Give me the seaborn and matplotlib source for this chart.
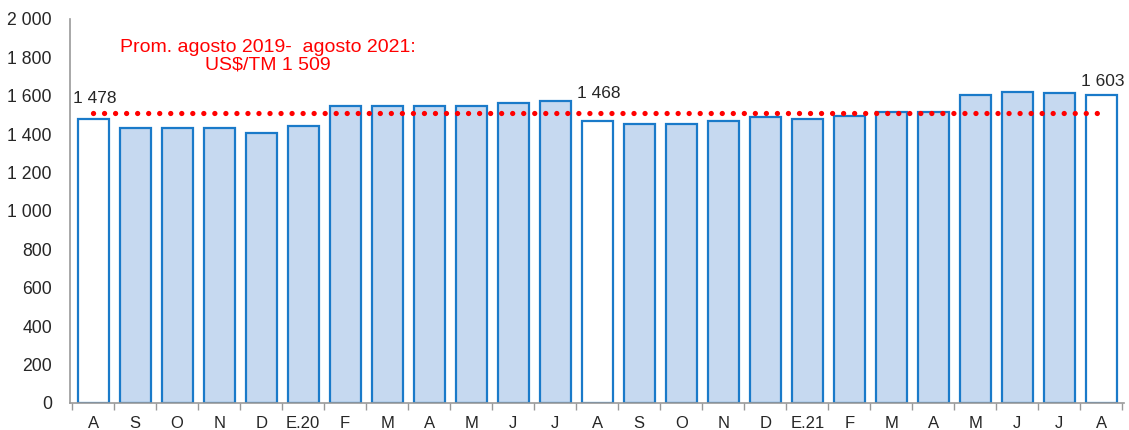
import matplotlib
matplotlib.use("Agg")
import matplotlib.pyplot as plt
import seaborn as sns
import pandas as pd
from matplotlib.ticker import FuncFormatter, FixedLocator

# Precio mensual (US$/TM), agosto 2019 - agosto 2021
meses = ["A", "S", "O", "N", "D", "E.20", "F", "M", "A", "M", "J", "J",
         "A", "S", "O", "N", "D", "E.21", "F", "M", "A", "M", "J", "J", "A"]
precios = [1478, 1430, 1430, 1430, 1404, 1443, 1549, 1549, 1549, 1549, 1562, 1573,
           1468, 1451, 1455, 1470, 1489, 1481, 1493, 1515, 1515, 1604, 1620, 1616, 1603]
destacados = [0, 12, 24]
promedio = 1509

df = pd.DataFrame({"pos": range(len(meses)), "mes": meses, "precio": precios})
df["tipo"] = ["agosto" if i in destacados else "otro" for i in df["pos"]]

sns.set_style("white")
plt.rcParams["font.family"] = ["Liberation Sans", "DejaVu Sans"]

fig = plt.figure(figsize=(11.29, 4.30), dpi=100)
ax = fig.add_axes([0.062, 0.063, 0.934, 0.893])

sns.barplot(data=df, x="pos", y="precio", hue="tipo", dodge=False, saturation=1,
            palette={"agosto": "white", "otro": "#C6D9F0"},
            edgecolor="#1A7AC9", linewidth=1.6, width=0.74, legend=False, ax=ax)

# linea de promedio punteada (del primer al ultimo mes)
ax.hlines(promedio, 0, len(meses) - 1, colors="red", linewidth=3.8,
          linestyles=[(0, (0.01, 2.08))], capstyle="round", zorder=5)

ax.set_ylim(0, 2000)
ax.set_xlim(-0.55, len(meses) - 0.45)
ax.set_yticks(range(0, 2001, 200))
ax.yaxis.set_major_formatter(FuncFormatter(lambda v, p: f"{int(v):,}".replace(",", " ")))

ax.set_xticks(range(len(meses)))
ax.set_xticklabels(meses)
ax.xaxis.set_minor_locator(FixedLocator([i - 0.5 for i in range(len(meses) + 1)]))
ax.tick_params(axis="x", which="major", length=0, pad=9.5, labelsize=12)
ax.tick_params(axis="x", which="minor", bottom=True, length=5, width=1,
               color="#999999", direction="out")
ax.tick_params(axis="y", length=5, width=1, color="#999999", direction="out",
               labelsize=12.7, pad=8)
ax.set_xlabel("")
ax.set_ylabel("")

sns.despine(ax=ax)
for s in ["left", "bottom"]:
    ax.spines[s].set_color("#999999")
    ax.spines[s].set_linewidth(1.2)

# etiquetas de los meses de agosto
desfase = {0: 15, 12: 20, 24: 10}
for i in destacados:
    txt = f"{precios[i]:,}".replace(",", " ")
    ax.annotate(txt, (i, precios[i]), xytext=(1, desfase[i]), textcoords="offset points",
                ha="center", va="center", fontsize=12.5)

ax.text(4.17, 1805, "Prom. agosto 2019-  agosto 2021:\nUS$/TM 1 509", color="red",
        ha="center", va="center", fontsize=14, linespacing=1.08)

fig.savefig("out.png", dpi=100)
